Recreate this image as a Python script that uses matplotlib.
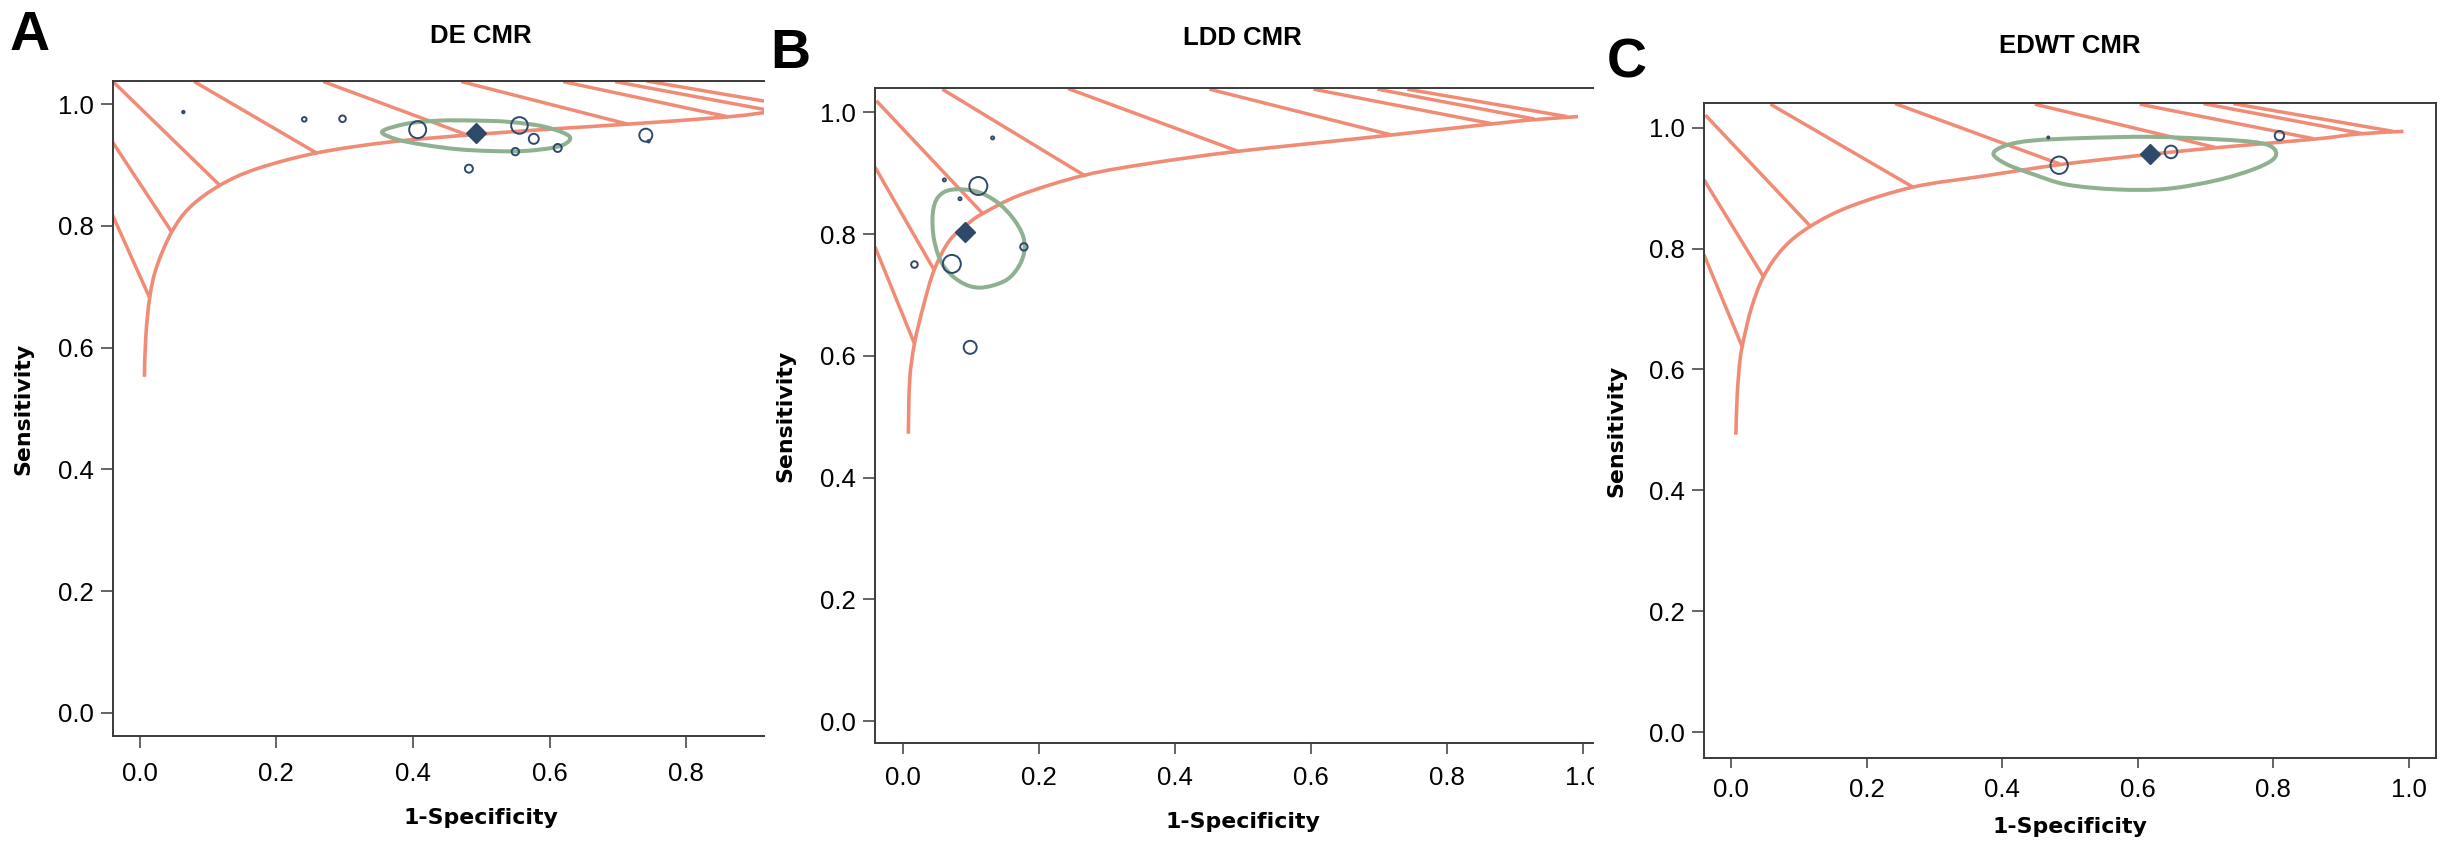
import numpy as np
import matplotlib
matplotlib.use("Agg")
import matplotlib.pyplot as plt
from matplotlib.path import Path
from matplotlib.patches import PathPatch, Rectangle
from matplotlib.transforms import blended_transform_factory

plt.rcParams['font.family'] = ['Liberation Sans', 'DejaVu Sans']

# ------------------------------------------------------------------ data
panel_letters = ['A', 'B', 'C']
panel_titles = ['DE CMR', 'LDD CMR', 'EDWT CMR']
x_label = '1-Specificity'
y_label = 'Sensitivity'
tick_values = [0.0, 0.2, 0.4, 0.6, 0.8, 1.0]
tick_labels = ['0.0', '0.2', '0.4', '0.6', '0.8', '1.0']

# --- A: DE CMR
de_curve_x = [0.007, 0.009, 0.015, 0.025, 0.047, 0.074, 0.118, 0.172, 0.260, 0.368, 0.490, 0.615, 0.713, 0.860, 0.930, 0.990]
de_curve_y = [0.552, 0.618, 0.684, 0.733, 0.790, 0.831, 0.867, 0.894, 0.920, 0.938, 0.950, 0.960, 0.967, 0.979, 0.988, 0.993]
de_hash_x0 = [-0.041, -0.041, -0.039, 0.080, 0.269, 0.471, 0.620, 0.696, 0.742]
de_hash_y0 = [0.821, 0.940, 1.037, 1.037, 1.037, 1.037, 1.037, 1.037, 1.038]
de_hash_x1 = [0.015, 0.047, 0.117, 0.260, 0.478, 0.715, 0.862, 0.930, 0.977]
de_hash_y1 = [0.681, 0.790, 0.867, 0.919, 0.950, 0.967, 0.979, 0.988, 0.993]
de_region_x = [0.355, 0.392, 0.441, 0.490, 0.539, 0.588, 0.622, 0.630, 0.612, 0.563, 0.514, 0.465, 0.417, 0.377]
de_region_y = [0.955, 0.968, 0.973, 0.973, 0.971, 0.964, 0.952, 0.942, 0.930, 0.923, 0.923, 0.926, 0.933, 0.942]
de_study_x = [0.064, 0.241, 0.297, 0.407, 0.556, 0.577, 0.550, 0.612, 0.482, 0.741, 0.745]
de_study_y = [0.987, 0.975, 0.976, 0.958, 0.965, 0.943, 0.922, 0.928, 0.894, 0.949, 0.939]
de_study_w = [1.2, 2.3, 3.3, 8.5, 8.3, 5.0, 3.7, 4.0, 4.0, 6.5, 1.2]
de_summary = (0.492, 0.952)

# --- B: LDD CMR
ldd_curve_x = [0.008, 0.010, 0.017, 0.030, 0.046, 0.069, 0.099, 0.118, 0.172, 0.268, 0.368, 0.493, 0.687, 0.866, 0.929, 0.993]
ldd_curve_y = [0.472, 0.560, 0.620, 0.681, 0.741, 0.790, 0.820, 0.834, 0.864, 0.897, 0.917, 0.936, 0.959, 0.981, 0.988, 0.993]
ldd_hash_x0 = [-0.041, -0.041, -0.039, 0.058, 0.243, 0.451, 0.604, 0.698, 0.742]
ldd_hash_y0 = [0.779, 0.910, 1.019, 1.038, 1.039, 1.038, 1.038, 1.038, 1.038]
ldd_hash_x1 = [0.017, 0.046, 0.118, 0.269, 0.493, 0.718, 0.868, 0.929, 0.977]
ldd_hash_y1 = [0.620, 0.741, 0.833, 0.895, 0.936, 0.963, 0.981, 0.989, 0.993]
ldd_region_x = [0.072, 0.108, 0.138, 0.162, 0.177, 0.178, 0.167, 0.148, 0.113, 0.084, 0.059, 0.046, 0.044, 0.052]
ldd_region_y = [0.873, 0.870, 0.853, 0.826, 0.796, 0.768, 0.741, 0.722, 0.712, 0.722, 0.749, 0.790, 0.834, 0.861]
ldd_study_x = [0.132, 0.061, 0.084, 0.111, 0.178, 0.017, 0.072, 0.099]
ldd_study_y = [0.958, 0.889, 0.858, 0.879, 0.779, 0.750, 0.751, 0.614]
ldd_study_w = [1.5, 1.5, 1.5, 9.0, 3.7, 3.3, 9.0, 6.5]
ldd_summary = (0.091, 0.803)

# --- C: EDWT CMR
edwt_curve_x = [0.007, 0.009, 0.013, 0.018, 0.030, 0.048, 0.077, 0.117, 0.176, 0.269, 0.372, 0.485, 0.618, 0.726, 0.859, 0.928, 0.992]
edwt_curve_y = [0.492, 0.558, 0.614, 0.647, 0.702, 0.754, 0.801, 0.837, 0.870, 0.902, 0.920, 0.939, 0.956, 0.968, 0.981, 0.990, 0.994]
edwt_hash_x0 = [-0.040, -0.040, -0.038, 0.058, 0.242, 0.448, 0.603, 0.697, 0.741]
edwt_hash_y0 = [0.790, 0.914, 1.021, 1.039, 1.040, 1.039, 1.039, 1.040, 1.040]
edwt_hash_x1 = [0.017, 0.048, 0.117, 0.268, 0.485, 0.716, 0.859, 0.933, 0.977]
edwt_hash_y1 = [0.636, 0.753, 0.837, 0.902, 0.940, 0.967, 0.982, 0.990, 0.994]
edwt_region_x = [0.387, 0.406, 0.446, 0.520, 0.618, 0.716, 0.780, 0.802, 0.800, 0.770, 0.716, 0.643, 0.569, 0.495, 0.446, 0.406]
edwt_region_y = [0.957, 0.971, 0.979, 0.983, 0.985, 0.981, 0.975, 0.964, 0.948, 0.931, 0.913, 0.899, 0.898, 0.906, 0.923, 0.940]
edwt_study_x = [0.468, 0.484, 0.649, 0.809]
edwt_study_y = [0.984, 0.938, 0.960, 0.987]
edwt_study_w = [1.0, 8.7, 6.3, 4.7]
edwt_summary = (0.618, 0.957)

# ------------------------------------------------------------------ style
SALMON = '#F08C76'
GREEN = '#8FB190'
NAVY = '#2E4A6B'
SPINE = '#3a3a3a'
W, H = 2448, 842
LABEL_FONT = ['DejaVu Sans']

# layout in pixels (left, top, right, bottom) and per-panel settings
layouts = [
    dict(box=(113, 81, 764, 736), xlim=(-0.039, 0.914), ylim=(-0.038, 1.038), right=False,
         title_base=43, xlabel_base=824, ylabel_x=23, letter=(10, 50), xpad=10.5, xlen=8.4),
    dict(box=(875, 88, 1593, 743), xlim=(-0.041, 1.015), ylim=(-0.036, 1.040), right=False,
         title_base=45, xlabel_base=828, ylabel_x=785, letter=(770, 68), xpad=8.6, xlen=8.0),
    dict(box=(1704, 103, 2436, 758), xlim=(-0.040, 1.040), ylim=(-0.043, 1.041), right=True,
         title_base=53, xlabel_base=833, ylabel_x=1616, letter=(1607, 78), xpad=7.2, xlen=7.2),
]


def smooth_path(xs, ys, closed=False):
    P = np.column_stack([xs, ys]).astype(float)
    n = len(P)
    if closed:
        ext = np.vstack([P[-1], P, P[0], P[1]])
        segs = n
    else:
        ext = np.vstack([P[0], P, P[-1]])
        segs = n - 1
    verts = [P[0]]
    codes = [Path.MOVETO]
    for i in range(segs):
        p0, p1, p2, p3 = ext[i], ext[i + 1], ext[i + 2], ext[i + 3]
        verts += [p1 + (p2 - p0) / 6.0, p2 - (p3 - p1) / 6.0, p2]
        codes += [Path.CURVE4] * 3
    if closed:
        verts.append(P[0])
        codes.append(Path.CLOSEPOLY)
    return Path(np.array(verts), codes)


fig = plt.figure(figsize=(W / 100, H / 100), dpi=100)

panels = [
    (de_curve_x, de_curve_y, de_hash_x0, de_hash_y0, de_hash_x1, de_hash_y1,
     de_region_x, de_region_y, de_study_x, de_study_y, de_study_w, de_summary),
    (ldd_curve_x, ldd_curve_y, ldd_hash_x0, ldd_hash_y0, ldd_hash_x1, ldd_hash_y1,
     ldd_region_x, ldd_region_y, ldd_study_x, ldd_study_y, ldd_study_w, ldd_summary),
    (edwt_curve_x, edwt_curve_y, edwt_hash_x0, edwt_hash_y0, edwt_hash_x1, edwt_hash_y1,
     edwt_region_x, edwt_region_y, edwt_study_x, edwt_study_y, edwt_study_w, edwt_summary),
]

for k, (data, lay) in enumerate(zip(panels, layouts)):
    (cx, cy, hx0, hy0, hx1, hy1, rx, ry, sx, sy, sw, summ) = data
    l, t, r, b = lay['box']
    ax = fig.add_axes([l / W, 1 - b / H, (r - l) / W, (b - t) / H])

    # hash lines
    for a0, b0, a1, b1 in zip(hx0, hy0, hx1, hy1):
        ax.plot([a0, a1], [b0, b1], color=SALMON, lw=2.5, solid_capstyle='butt', zorder=2)
    # SROC curve
    ax.add_patch(PathPatch(smooth_path(cx, cy), facecolor='none', edgecolor=SALMON,
                           lw=2.6, capstyle='butt', zorder=2))
    # confidence region
    ax.add_patch(PathPatch(smooth_path(rx, ry, closed=True), facecolor='none',
                           edgecolor=GREEN, lw=2.9, zorder=3))
    # studies
    sizes = [(1.44 * w) ** 2 for w in sw]
    ax.scatter(sx, sy, s=sizes, facecolors='none', edgecolors=NAVY, linewidths=1.4, zorder=4)
    # summary point
    ax.plot([summ[0]], [summ[1]], marker='D', ms=10, color=NAVY, mec=NAVY, zorder=5)

    # spines
    for side in ['left', 'bottom', 'top', 'right']:
        ax.spines[side].set_color(SPINE)
        ax.spines[side].set_linewidth(1.4)
    ax.spines['right'].set_visible(lay['right'])

    ax.set_xticks(tick_values)
    ax.set_xticklabels(tick_labels)
    ax.set_yticks(tick_values)
    ax.set_yticklabels(tick_labels)
    ax.set_xlim(*lay['xlim'])
    ax.set_ylim(*lay['ylim'])
    ax.tick_params(axis='x', direction='out', length=lay['xlen'], width=1.1, color=SPINE,
                   labelsize=18.5, pad=lay['xpad'])
    ax.tick_params(axis='y', direction='out', length=9.0, width=1.1, color=SPINE,
                   labelsize=18.5, pad=5)

    hpx = b - t
    bt = blended_transform_factory(ax.transData, ax.transAxes)
    ax.text(0.5, 1 + (t - lay['title_base']) / hpx, panel_titles[k], transform=bt,
            ha='center', va='baseline', fontsize=18.5, fontweight='bold')
    ax.set_xlabel(x_label, fontsize=15.8, fontweight='bold', va='baseline', family=LABEL_FONT)
    ax.xaxis.set_label_coords(0.5, -(lay['xlabel_base'] - b) / hpx, transform=bt)
    ax.set_ylabel(y_label, fontsize=15.8, fontweight='bold', va='center', ha='center',
                  family=LABEL_FONT)
    ax.yaxis.set_label_coords((lay['ylabel_x'] - l) / (r - l), 0.5)

    lx, lb = lay['letter']
    fig.text(lx / W, 1 - lb / H, panel_letters[k], fontsize=40, fontweight='bold',
             ha='left', va='baseline')

# panel B image is cut at its right edge (partial "1.0" tick label)
fig.add_artist(Rectangle((1594 / W, 1 - 805 / H), 50 / W, 50 / H, transform=fig.transFigure,
                         facecolor='white', edgecolor='none', zorder=20))

fig.savefig('out.png', dpi=100)
